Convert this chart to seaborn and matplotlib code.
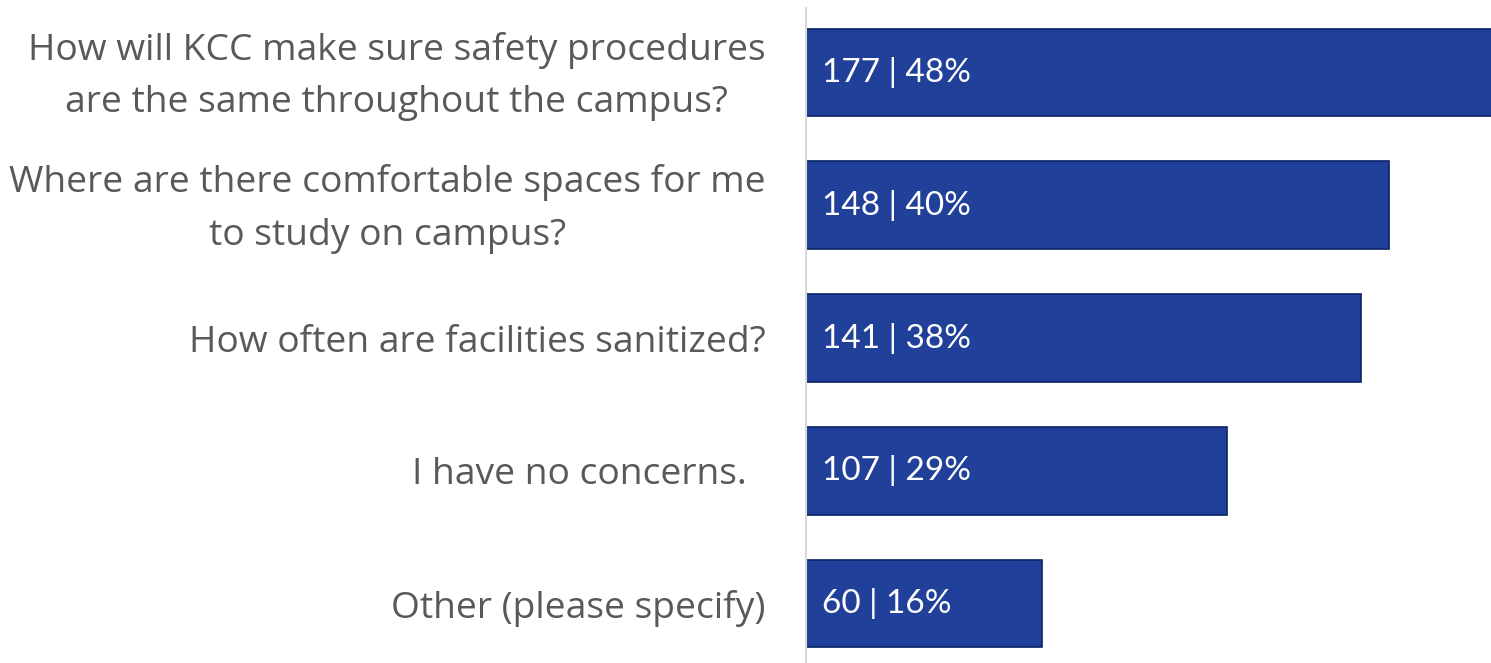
import seaborn as sns
import matplotlib.pyplot as plt
import matplotlib.transforms as mtransforms
import pandas as pd

questions = [
    "How will KCC make sure safety procedures\nare the same throughout the campus?",
    "Where are there comfortable spaces for me\nto study on campus?",
    "How often are facilities sanitized?",
    "I have no concerns.  ",
    "Other (please specify)",
]
counts = [177, 148, 141, 107, 60]
percents = [48, 40, 38, 29, 16]

df = pd.DataFrame({"question": questions, "count": counts})

sns.set_style("white")
fig = plt.figure(figsize=(14.91, 6.63), dpi=100)
ax = fig.add_axes([806 / 1491, 0, 685 / 1491, 655 / 663])

sns.barplot(data=df, x="count", y="question", orient="h", color="#204099",
            edgecolor="#0b2266", linewidth=1.2, width=0.66, saturation=1, ax=ax)

for i, (c, p) in enumerate(zip(counts, percents)):
    ax.text(4, i, f"{c} | {p}%", color="white", fontsize=24, va="center",
            ha="left", family="Lato")

ax.set_xlim(0, 174)
ax.set_ylim(4.447, -0.486)
ax.set_xlabel("")
ax.set_ylabel("")
ax.set_xticks([])
for s in ["top", "right", "bottom"]:
    ax.spines[s].set_visible(False)
ax.spines["left"].set_color("#d9d9d9")
ax.spines["left"].set_linewidth(1.5)
ax.tick_params(axis="y", length=0, pad=29)
for t in ax.get_yticklabels():
    t.set_fontsize(26.8)
    t.set_color("#595959")
    t.set_family("Open Sans")
    t.set_multialignment("center")
    t.set_linespacing(1.6)
    if "\n" in t.get_text():
        shift = mtransforms.ScaledTranslation(0, 9 / 100, fig.dpi_scale_trans)
        t.set_transform(t.get_transform() + shift)

fig.savefig("out.png", dpi=100)
